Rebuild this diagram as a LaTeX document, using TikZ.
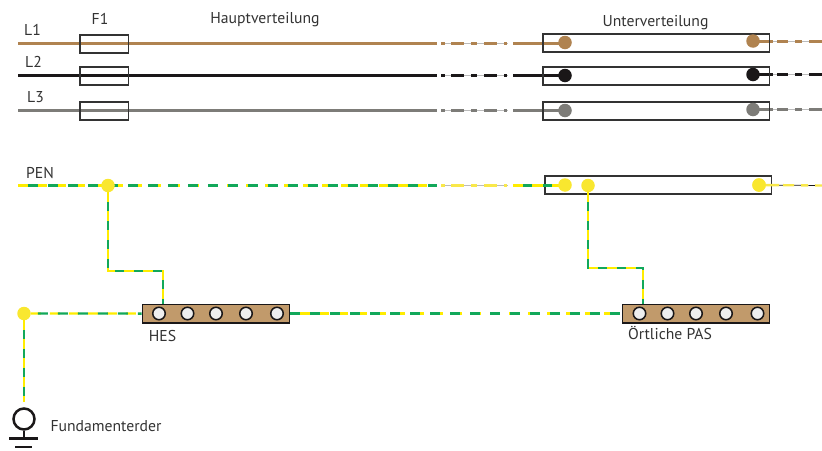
\documentclass[tikz,border=0pt]{standalone}
\usepackage{fontspec}
\setmainfont{PT Sans}
\definecolor{cbrown}{HTML}{B08350}
\definecolor{cblack}{HTML}{1A1718}
\definecolor{cgrey}{HTML}{7D7C78}
\definecolor{cyel}{HTML}{FFEC00}
\definecolor{cpale}{HTML}{F9E84A}
\definecolor{cdot}{HTML}{F9E72F}
\definecolor{cgreen}{HTML}{12A85A}
\definecolor{cbar}{HTML}{C19A6B}
\definecolor{cframe}{HTML}{333333}
\definecolor{ctext}{HTML}{333333}
\definecolor{chole}{HTML}{EEEEEE}
\definecolor{cfaint}{HTML}{BBBBBB}
\tikzset{
  x=1pt,y=-1pt,
  lbl/.style={font=\fontsize{15.7}{18}\selectfont,text=ctext,inner sep=0pt,anchor=center},
  boxf/.style={draw=cframe,line width=1.6pt,inner sep=0pt},
  fuse/.style={boxf,minimum width=48.6pt,minimum height=18pt},
  dist/.style={boxf,minimum width=226.6pt,minimum height=18pt},
  wire/.style={line width=2.4pt},
  midd/.style={line width=2.4pt,dash pattern=on 3.5pt off 6.5pt on 13pt off 7pt on 6pt off 7pt on 13pt off 7pt on 3pt off 4pt},
  rightd/.style={line width=2.4pt,dash pattern=on 20pt off 4pt on 11pt off 7pt on 7pt off 7pt on 13pt off 4pt},
  faint/.style={line width=.6pt,draw=cfaint},
  pey/.style={line width=2.3pt,draw=cyel,dash pattern=on 10pt off 9pt},
  peg/.style={line width=2.3pt,draw=cgreen,dash pattern=on 10pt off 10pt},
  bry/.style={line width=2.3pt,draw=cyel,dash pattern=on 9.5pt off 9.5pt},
  brg/.style={line width=2.3pt,draw=cgreen,dash pattern=on 9.5pt off 9.5pt,dash phase=9.5pt},
  tap/.style={circle,fill=#1,draw=none,inner sep=0pt,minimum size=13.5pt},
  hole/.style={circle,fill=chole,draw=cblack,line width=1.5pt,inner sep=0pt,minimum size=12.5pt},
  bar/.style={draw=cblack,line width=1.5pt,fill=cbar,inner sep=0pt,minimum width=147pt,minimum height=18.7pt},
  gline/.style={draw=cblack,line width=2.5pt},
}
\newcommand{\phaseline}[3]{%
  \draw[wire,draw=#2] (18,#1) -- (437,#1);
  \draw[faint] (441,#1) -- (508,#1);
  \draw[midd,draw=#2] (441,#1) -- (508,#1);
  \draw[wire,draw=#2] (513,#1) -- (565,#1);
  \draw[faint] (753,#3) -- (822,#3);
  \draw[rightd,draw=#2] (753,#3) -- (822,#3);
}
\begin{document}
\begin{tikzpicture}
\useasboundingbox (0,0) rectangle (822,450);
% phases
\phaseline{43.5}{cbrown}{41.5}
\phaseline{75.5}{cblack}{74.5}
\phaseline{110.5}{cgrey}{109.5}
% fuses
\node[fuse] (f1) at (104.25,44) {};
\node[fuse] (f2) at (104.25,75.8) {};
\node[fuse] (f3) at (104.25,111) {};
% UV boxes
\node[dist] (u1) at (656,42.8) {};
\node[dist] (u2) at (656,75.8) {};
\node[dist] (u3) at (656,110.8) {};
\node[dist] (u4) at (658.2,185) {};
\node[tap=cbrown] (d1a) at (565,42.5) {};
\node[tap=cbrown] (d1b) at (753,41) {};
\node[tap=cblack] (d2a) at (565,75.5) {};
\node[tap=cblack] (d2b) at (753,74.5) {};
\node[tap=cgrey] (d3a) at (565,110.5) {};
\node[tap=cgrey] (d3b) at (753,109.5) {};
% PEN
\coordinate (pl) at (18,185.5);
\coordinate (pm) at (437,185.5);
\draw[pey] (pl) -- (pm);
\draw[peg] (28,185.5) -- (pm);
\draw[faint] (441,185.5) -- (508,185.5);
\draw[midd,draw=cpale] (441,185.5) -- (508,185.5);
\draw[wire,draw=cyel] (513,185.5) -- (560,185.5);
\draw[peg,dash pattern=on 9pt off 11pt] (523,185.5) -- (553,185.5);
\node[tap=cdot] (pj) at (108,185.5) {};
\node[tap=cdot] (pa) at (565,185) {};
\node[tap=cdot] (pb) at (588,185.5) {};
\node[tap=cdot] (pc) at (759,185) {};
\coordinate (pr) at (822,185.5);
\draw[cblack,line width=.7pt] (pc) -- (pr);
\draw[rightd,draw=cpale] (pc.center) -- (pr);
\node[tap=cdot] at (pc) {};
% bars
\node[bar] (hes) at (215.8,313.6) {};
\node[bar] (pas) at (695.8,313.6) {};
\foreach \i/\x in {1/159,2/187.5,3/216,4/246,5/277}{\node[hole] (h\i) at (\x,313.5) {};}
\foreach \i/\x in {1/639.5,2/667.5,3/696,4/726,5/757.5}{\node[hole] (q\i) at (\x,313.5) {};}
% PE branches
\coordinate (k1) at (108,271); \coordinate (k2) at (163,271);
\coordinate (k3) at (588,268); \coordinate (k4) at (643,268);
\coordinate (hest) at (163,303.5); \coordinate (past) at (643,303.5);
\foreach \s in {bry,brg}{
  \draw[\s] (pj) -- (k1) -- (k2) -- (hest);
  \draw[\s] (pb) -- (k3) -- (k4) -- (past);
}
% earth
\node[tap=cdot] (ej) at (24,313.5) {};
\coordinate (ee) at (24,402);
\foreach \s in {bry,brg}{
  \draw[\s] (ej) -- (ee);
}
\draw[pey] (ej) -- (hes.west);
\draw[peg,dash phase=13pt] (ej) -- (hes.west);
\draw[pey] ([xshift=10pt]hes.east) -- (pas.west);
\draw[peg] (hes.east) -- (pas.west);
% ground symbol
\node[circle,gline,inner sep=0pt,minimum size=21pt] (gnd) at (24,419) {};
\coordinate (g1) at (24,438.5);
\draw[gline] (gnd) -- (g1);
\coordinate (g2) at (9,438.5); \coordinate (g3) at (38,438.5);
\coordinate (g4) at (15,447); \coordinate (g5) at (32,447);
\draw[gline] (g2) -- (g3);
\draw[gline] (g4) -- (g5);
% labels
\node[lbl] (l1) at (32.5,30) {L1};
\node[lbl] (l2) at (33.5,62) {L2};
\node[lbl] (l3) at (35.5,97.5) {L3};
\node[lbl] (f) at (100,18.5) {F1};
\node[lbl] (hv) at (265,19.5) {Hauptverteilung};
\node[lbl] (uv) at (655.5,23) {Unterverteilung};
\node[lbl] (pen) at (40,173) {PEN};
\node[lbl] (hl) at (162.5,336) {HES};
\node[lbl] (ol) at (670,333) {Örtliche PAS};
\node[lbl] (fl) at (106,426) {Fundamenterder};
\end{tikzpicture}
\end{document}
